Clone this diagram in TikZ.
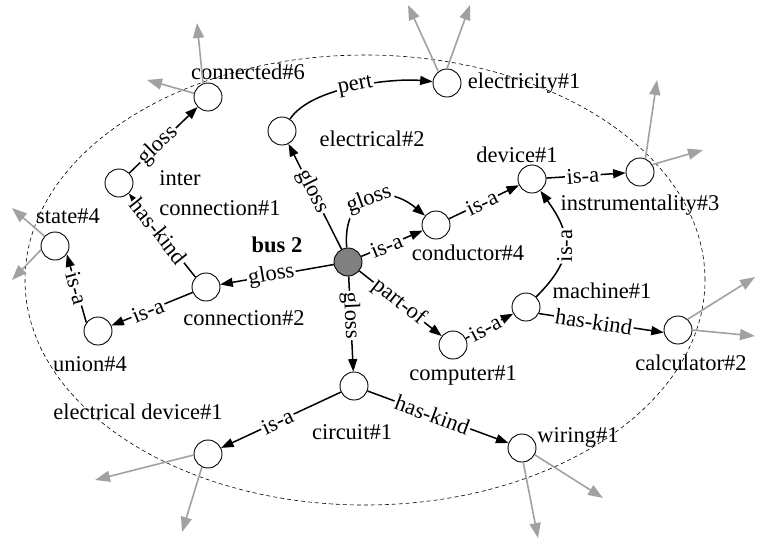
\documentclass[tikz,border=0pt]{standalone}
\usepackage{fontspec}
\setmainfont{Liberation Serif}
\usetikzlibrary{arrows.meta}
\begin{document}
\begin{tikzpicture}[x=1pt,y=-1pt,
  every node/.style={font=\fontsize{22.5}{30}\selectfont},
  nd/.style={circle, draw, line width=0.9pt, minimum size=28pt, inner sep=0pt, fill=white},
  txt/.style={inner sep=0pt},
  boldtxt/.style={inner sep=0pt, font=\fontsize{22.5}{30}\selectfont\bfseries},
  rel/.style={line width=1.5pt, -{Triangle[length=12.5pt,width=9pt]}},
  lbl/.style={sloped, fill=white, inner sep=1.5pt},
  ext/.style={draw=black!37, line width=1.6pt, -{Triangle[length=15pt,width=11pt]}}
]
\path[use as bounding box] (0,0) rectangle (757,542);
\draw[line width=0.6pt, dash pattern=on 4pt off 3pt] (365,280) ellipse [x radius=340pt, y radius=225pt];

% concept nodes
\node[nd, fill=black!50] (bus) at (348,262) {};
\node[nd] (e2)   at (282,131) {};
\node[nd] (elc)  at (447,83) {};
\node[nd] (c6)   at (208,97) {};
\node[nd] (in)   at (119,183) {};
\node[nd] (st)   at (55,246) {};
\node[nd] (cn)   at (206,287) {};
\node[nd] (un)   at (98,331) {};
\node[nd] (ci)   at (354,386) {};
\node[nd] (ed)   at (208,454) {};
\node[nd] (w)    at (522,448) {};
\node[nd] (cp)   at (453,345) {};
\node[nd] (m)    at (526,307) {};
\node[nd] (ca)   at (678,330) {};
\node[nd] (cond) at (436,225) {};
\node[nd] (dev)  at (532,179) {};
\node[nd] (ins)  at (640,172) {};

% texts
\node[txt] (l-c6) at (248,72) {connected\#6};
\node[txt] (l-el) at (524,83) {electricity\#1};
\node[txt] (l-e2) at (372,139) {electrical\#2};
\node[txt] (l-dev) at (517,155) {device\#1};
\node[txt] (l-ins) at (640,205) {instrumentality\#3};
\node[txt] (l-cond) at (468,253) {conductor\#4};
\node[boldtxt] (l-bus) at (277,245) {bus 2};
\node[txt, align=left] (l-in) at (220,193) {inter\\connection\#1};
\node[txt] (l-st) at (68,216) {state\#4};
\node[txt] (l-cn) at (244,318) {connection\#2};
\node[txt] (l-un) at (90,364) {union\#4};
\node[txt] (l-ed) at (138,412) {electrical device\#1};
\node[txt] (l-ci) at (352,432) {circuit\#1};
\node[txt] (l-w) at (578,437) {wiring\#1};
\node[txt] (l-cp) at (463,375) {computer\#1};
\node[txt] (l-m) at (602,291) {machine\#1};
\node[txt] (l-ca) at (691,363) {calculator\#2};

% relations
\draw[rel] (bus) -- node[lbl, pos=0.55] {gloss} (e2);
\draw[rel] (e2) .. controls (312,86) and (395,78) .. node[lbl] {pert} (elc);
\draw[rel] (bus) .. controls (342,195) and (385,182) .. node[lbl] {gloss} (cond);
\draw[rel] (bus) -- node[lbl, pos=0.41] {is-a} (cond);
\draw[rel] (cond) -- node[lbl, pos=0.47] {is-a} (dev);
\draw[rel] (dev) -- node[lbl, pos=0.46] {is-a} (ins);
\draw[rel] (m) .. controls (575,258) and (572,235) .. node[lbl] {is-a} (dev);
\draw[rel] (bus) -- node[lbl, pos=0.48] {part-of} (cp);
\draw[rel] (cp) -- node[lbl, pos=0.41] {is-a} (m);
\draw[rel] (m.-27) -- node[lbl, pos=0.44] {has-kind} (ca.190);
\draw[rel] (bus) -- node[lbl, pos=0.41] {gloss} (ci);
\draw[rel] (ci) -- node[lbl, pos=0.53] {is-a} (ed);
\draw[rel] (ci) -- node[lbl, pos=0.46] {has-kind} (w);
\draw[rel] (bus) -- node[lbl, pos=0.55] {gloss} (cn);
\draw[rel] (cn) -- node[lbl, pos=0.55] {is-a} (un);
\draw[rel] (un.144) -- node[lbl] {is-a} (st.-35);
\draw[rel] (cn.137) -- node[lbl, pos=0.55] {has-kind} (in.-47);
\draw[rel] (in) -- node[lbl, pos=0.42] {gloss} (c6);

% external links
\coordinate (g1) at (197,23);  \draw[ext] (c6.110) -- (g1);
\coordinate (g2) at (147,80);  \draw[ext] (c6.165) -- (g2);
\coordinate (g3) at (408,5);   \draw[ext] (elc.127) -- (g3);
\coordinate (g4) at (470,5);   \draw[ext] (elc.90) -- (g4);
\coordinate (g5) at (657,80);  \draw[ext] (ins.68) -- (g5);
\coordinate (g6) at (703,150); \draw[ext] (ins.31) -- (g6);
\coordinate (g7) at (12,208);  \draw[ext] (st.137) -- (g7);
\coordinate (g8) at (12,280);  \draw[ext] (st.195) -- (g8);
\coordinate (g9) at (755,277); \draw[ext] (ca.48) -- (g9);
\coordinate (g10) at (755,336); \draw[ext] (ca.0) -- (g10);
\coordinate (g11) at (603,498); \draw[ext] (w.-28) -- (g11);
\coordinate (g12) at (538,538); \draw[ext] (w.-85) -- (g12);
\coordinate (g13) at (95,480);  \draw[ext] (ed.184) -- (g13);
\coordinate (g14) at (182,532); \draw[ext] (ed.245) -- (g14);
\end{tikzpicture}
\end{document}
